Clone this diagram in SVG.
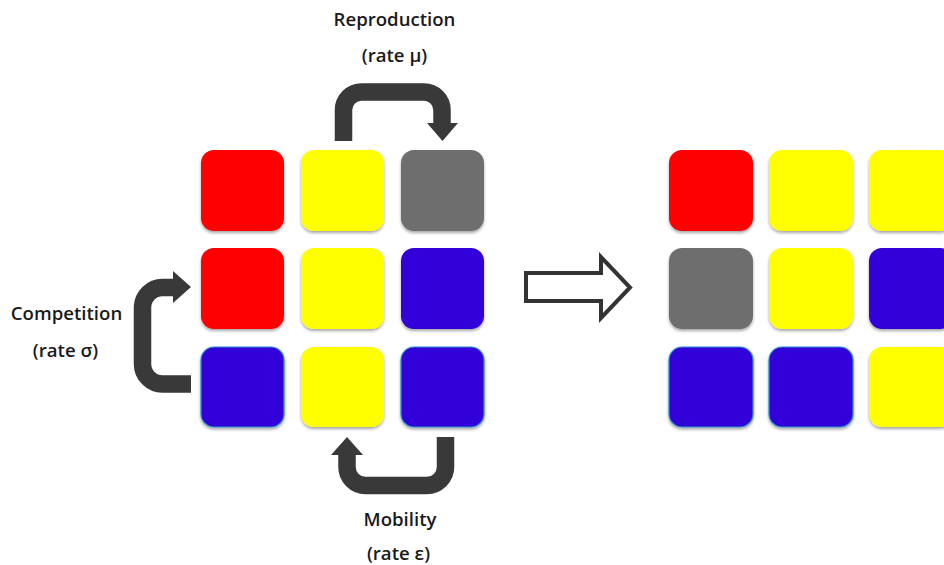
<svg xmlns="http://www.w3.org/2000/svg" width="944" height="565" viewBox="0 0 944 565">
  <defs>
    <filter id="sh" x="-20%" y="-20%" width="140%" height="150%">
      <feDropShadow dx="0" dy="2" stdDeviation="1.6" flood-color="#000" flood-opacity="0.35"/>
    </filter>
  </defs>
  <style>
    .cell { filter: url(#sh); }
    .r { fill: #FF0000; }
    .y { fill: #FFFF00; }
    .g { fill: #6E6E6E; }
    .b { fill: #3100D8; }
    .be { fill: #3100D8; stroke: #2B8FD0; stroke-width: 1.2; }
    .lbl { font-family: "Open Sans", "Liberation Sans", sans-serif; font-weight: 600; font-size: 18.6px; fill: #1a1a1a; text-anchor: middle; }
    .arr { fill: none; stroke: #393939; stroke-width: 17.5; }
    .head { fill: #393939; }
  </style>
  <rect width="944" height="565" fill="#FFFFFF"/>

  <g id="left-grid">
    <g id="L11"><rect class="cell r" x="201" y="150" width="83" height="81" rx="13"/></g>
    <g id="L12"><rect class="cell y" x="301" y="150" width="83" height="81" rx="13"/></g>
    <g id="L13"><rect class="cell g" x="401" y="150" width="83" height="81" rx="13"/></g>
    <g id="L21"><rect class="cell r" x="201" y="248" width="83" height="81" rx="13"/></g>
    <g id="L22"><rect class="cell y" x="301" y="248" width="83" height="81" rx="13"/></g>
    <g id="L23"><rect class="cell b" x="401" y="248" width="83" height="81" rx="13"/></g>
    <g id="L31"><rect class="cell be" x="201" y="347" width="83" height="80" rx="13"/></g>
    <g id="L32"><rect class="cell y" x="301" y="347" width="83" height="80" rx="13"/></g>
    <g id="L33"><rect class="cell be" x="401" y="347" width="83" height="80" rx="13"/></g>
  </g>

  <g id="right-grid">
    <g id="R11"><rect class="cell r" x="669" y="150" width="84" height="81" rx="13"/></g>
    <g id="R12"><rect class="cell y" x="769" y="150" width="84" height="81" rx="13"/></g>
    <g id="R13"><rect class="cell y" x="869" y="150" width="84" height="81" rx="13"/></g>
    <g id="R21"><rect class="cell g" x="669" y="248" width="84" height="81" rx="13"/></g>
    <g id="R22"><rect class="cell y" x="769" y="248" width="84" height="81" rx="13"/></g>
    <g id="R23"><rect class="cell b" x="869" y="248" width="84" height="81" rx="13"/></g>
    <g id="R31"><rect class="cell be" x="669" y="347" width="84" height="80" rx="13"/></g>
    <g id="R32"><rect class="cell be" x="769" y="347" width="84" height="80" rx="13"/></g>
    <g id="R33"><rect class="cell y" x="869" y="347" width="84" height="80" rx="13"/></g>
  </g>

  <g id="connectors">
    <g id="reproduction-arrow">
      <path class="arr" d="M343.5 141 V110 A18 18 0 0 1 361.5 92 H424 A18 18 0 0 1 442 110 V124"/>
      <polygon class="head" points="427,123 458,123 442.5,141"/>
    </g>
    <g id="competition-arrow">
      <path class="arr" d="M191 384 H162.5 A20 20 0 0 1 142.5 364 V307 A20 20 0 0 1 162.5 287.5 H174"/>
      <polygon class="head" points="173,271 173,303 191,287"/>
    </g>
    <g id="mobility-arrow">
      <path class="arr" d="M445.5 437 V467 A18.5 18.5 0 0 1 427 485.5 H365.5 A18.5 18.5 0 0 1 347 467 V453"/>
      <polygon class="head" points="331,455 363,455 347,437"/>
    </g>
    <g id="transition-arrow">
      <polygon points="526,273 601,273 601,257 630,287.5 601,318 601,301 526,301" fill="none" stroke="#333333" stroke-width="4" stroke-linejoin="miter"/>
    </g>
  </g>

  <g id="labels">
    <text class="lbl" x="394.5" y="26">Reproduction</text>
    <text class="lbl" x="394.5" y="62">(rate μ)</text>
    <text class="lbl" x="66.5" y="320">Competition</text>
    <text class="lbl" x="65.5" y="357">(rate σ)</text>
    <text class="lbl" x="400" y="526">Mobility</text>
    <text class="lbl" x="398.5" y="560">(rate ε)</text>
  </g>
</svg>
